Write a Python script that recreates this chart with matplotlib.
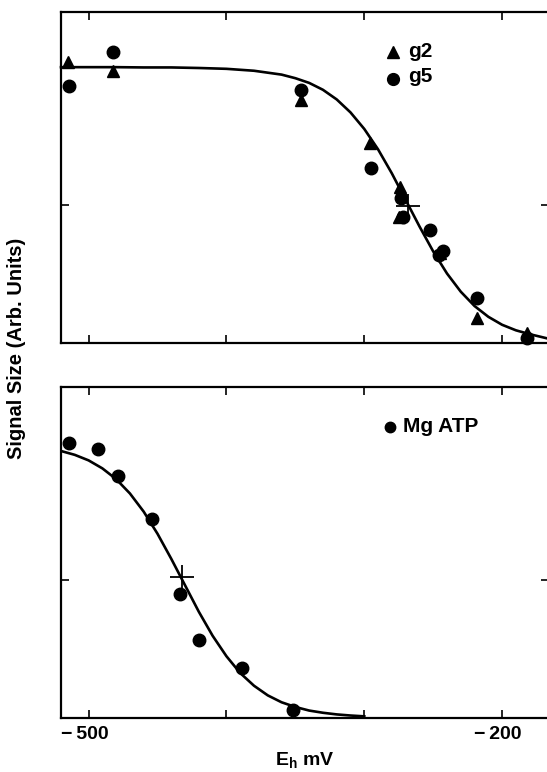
"""Redox titration of g2 / g5 and Mg ATP EPR signals (two stacked panels)."""
import matplotlib
matplotlib.use('Agg')
import matplotlib.pyplot as plt
import matplotlib.transforms as mtrans

plt.rcParams['font.family'] = ['Liberation Sans', 'DejaVu Sans']
plt.rcParams['font.weight'] = 'bold'
plt.rcParams['mathtext.fontset'] = 'custom'
plt.rcParams['mathtext.rm'] = 'Liberation Sans:bold'
plt.rcParams['mathtext.bf'] = 'Liberation Sans:bold'

# ---- top panel data ----
g2_eh = [-515, -482, -346, -296, -274, -275, -245, -218, -182]
g2_sig = [1.02, 0.985, 0.88, 0.725, 0.566, 0.457, 0.326, 0.09, 0.036]

g5_eh = [-514, -482, -346, -295, -273, -272, -252, -243, -246, -218, -182]
g5_sig = [0.932, 1.055, 0.917, 0.634, 0.525, 0.457, 0.41, 0.334, 0.32, 0.163, 0.018]

top_fit_eh = [-520, -500, -480, -460, -440, -420, -400, -380, -360, -350, -340,
              -330, -320, -310, -300, -290, -280, -270, -260, -250, -240, -230,
              -220, -210, -200, -190, -180, -170, -165]
top_fit_sig = [1.0, 1.0, 1.0, 0.999, 0.999, 0.997, 0.994, 0.987, 0.973, 0.960,
               0.943, 0.918, 0.883, 0.836, 0.776, 0.702, 0.615, 0.519, 0.423,
               0.332, 0.252, 0.186, 0.134, 0.095, 0.066, 0.046, 0.032, 0.020, 0.014]
top_mid = (-268, 0.495)

# ---- bottom panel data ----
atp_eh = [-514, -493, -479, -454, -434, -420, -389, -352]
atp_sig = [0.997, 0.975, 0.877, 0.721, 0.45, 0.283, 0.181, 0.029]

bot_fit_eh = [-520, -510, -500, -490, -480, -470, -460, -450, -440, -430, -420,
              -410, -400, -390, -380, -370, -360, -350, -340, -330, -320, -310, -300]
bot_fit_sig = [0.968, 0.954, 0.934, 0.905, 0.866, 0.814, 0.748, 0.668, 0.577,
               0.481, 0.385, 0.298, 0.224, 0.163, 0.117, 0.082, 0.057, 0.040,
               0.027, 0.019, 0.013, 0.009, 0.006]
bot_mid = (-432, 0.51)

xticks = [-500, -400, -300, -200]
xlabels = ['\u2212\u2009500', '', '', '\u2212\u2009200']

W, H = 547, 772
fig = plt.figure(figsize=(W / 100, H / 100), dpi=100)
left = 61 / W
width = 488 / W
ax_top = fig.add_axes([left, 1 - 343 / H, width, 331 / H])
ax_bot = fig.add_axes([left, 1 - 718 / H, width, 331 / H])

ms = 9
for ax in (ax_top, ax_bot):
    ax.set_xlim(-520, -166)
    ax.set_ylim(0, 1.2)
    ax.set_xticks(xticks)
    ax.set_yticks([0.5])
    ax.set_yticklabels([])
    ax.tick_params(direction='in', length=6, width=1.2, top=True, right=True,
                   labelsize=14, pad=6)
    for s in ('left', 'top', 'bottom'):
        ax.spines[s].set_linewidth(1.6)
    ax.spines['right'].set_visible(False)

# top panel
ax_top.set_xticklabels([])
ax_top.plot(top_fit_eh, top_fit_sig, color='black', lw=1.9, clip_on=False)
ax_top.plot(g2_eh, g2_sig, '^', color='black', ms=ms, clip_on=False)
ax_top.plot(g5_eh, g5_sig, 'o', color='black', ms=ms, clip_on=False)
ax_top.plot(*top_mid, '+', color='black', ms=17, mew=1.3)
ax_top.plot([-279], [1.055], '^', color='black', ms=8)
ax_top.plot([-279], [0.957], 'o', color='black', ms=8.5)
ax_top.text(-268, 1.055, 'g2', fontsize=15, fontweight='bold', va='center')
ax_top.text(-268, 0.965, 'g5', fontsize=15, fontweight='bold', va='center')

# bottom panel
ax_bot.set_xticklabels(xlabels, fontweight='bold')
shift = mtrans.ScaledTranslation(-4 / 100, 0, fig.dpi_scale_trans)
for lab in ax_bot.get_xticklabels():
    lab.set_transform(lab.get_transform() + shift)
ax_bot.plot(bot_fit_eh, bot_fit_sig, color='black', lw=1.9)
ax_bot.plot(atp_eh, atp_sig, 'o', color='black', ms=ms, clip_on=False)
ax_bot.plot(*bot_mid, '+', color='black', ms=17, mew=1.3)
ax_bot.plot([-281], [1.055], 'o', color='black', ms=7.5)
ax_bot.text(-272, 1.055, 'Mg ATP', fontsize=15, fontweight='bold', va='center')
ax_bot.set_xlabel(r'E$_\mathregular{h}$ mV', fontsize=14, fontweight='bold', labelpad=5)

fig.text(0.031, 1 - 348 / H, 'Signal Size (Arb. Units)', rotation=90, ha='center',
         va='center', fontsize=14.5, fontweight='bold')

fig.savefig('out.png', dpi=100)
plt.close(fig)
